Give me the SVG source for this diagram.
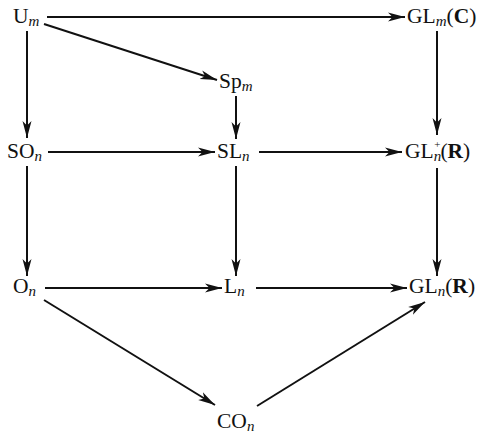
<svg xmlns="http://www.w3.org/2000/svg" width="481" height="433" viewBox="0 0 481 433">
<defs>
<style>
.lbl{font-family:"Liberation Serif","Times New Roman",serif;font-size:21.5px;fill:#111}
.sub{font-size:15px;font-style:italic}
.bold{font-weight:bold}
.ed{stroke:#111;stroke-width:2;fill:none}
</style>
<marker id="ah" viewBox="0 0 17 10" refX="17" refY="5" markerWidth="17" markerHeight="10" markerUnits="userSpaceOnUse" orient="auto">
<path d="M0,0.5 L17,5 L0,9.5 L4.5,5 Z" fill="#111"/>
</marker>
</defs>
<rect width="481" height="433" fill="#fff"/>
<g id="edges">
<line class="ed" x1="47" y1="17" x2="405" y2="17" marker-end="url(#ah)"/>
<line class="ed" x1="44" y1="24" x2="217" y2="80" marker-end="url(#ah)"/>
<line class="ed" x1="27" y1="31" x2="27" y2="138" marker-end="url(#ah)"/>
<line class="ed" x1="236" y1="96" x2="236" y2="139" marker-end="url(#ah)"/>
<line class="ed" x1="437" y1="31" x2="437" y2="135" marker-end="url(#ah)"/>
<line class="ed" x1="48" y1="152" x2="215" y2="152" marker-end="url(#ah)"/>
<line class="ed" x1="259" y1="152" x2="402" y2="152" marker-end="url(#ah)"/>
<line class="ed" x1="27" y1="166" x2="27" y2="276" marker-end="url(#ah)"/>
<line class="ed" x1="236" y1="166" x2="236" y2="276" marker-end="url(#ah)"/>
<line class="ed" x1="437" y1="168" x2="437" y2="276" marker-end="url(#ah)"/>
<line class="ed" x1="45" y1="288" x2="222" y2="288" marker-end="url(#ah)"/>
<line class="ed" x1="256" y1="288" x2="407" y2="288" marker-end="url(#ah)"/>
<line class="ed" x1="44" y1="300" x2="215" y2="405" marker-end="url(#ah)"/>
<line class="ed" x1="257" y1="406" x2="425" y2="302" marker-end="url(#ah)"/>
</g>
<g id="Um"><text class="lbl" x="13" y="23">U<tspan class="sub" dy="3">m</tspan></text></g>
<g id="GLmC"><text class="lbl" x="407" y="23">GL<tspan class="sub" dy="3">m</tspan><tspan dy="-3">(</tspan><tspan class="bold">C</tspan>)</text></g>
<g id="Spm"><text class="lbl" x="219" y="88">Sp<tspan class="sub" dy="3">m</tspan></text></g>
<g id="SOn"><text class="lbl" x="7" y="158">SO<tspan class="sub" dy="3">n</tspan></text></g>
<g id="SLn"><text class="lbl" x="217" y="158">SL<tspan class="sub" dy="3">n</tspan></text></g>
<g id="GLnpR"><text class="lbl" x="405" y="158">GL<tspan class="sub" dy="3">n</tspan><tspan style="font-size:11px" dx="-7" dy="-13">+</tspan><tspan dy="10">(</tspan><tspan class="bold">R</tspan>)</text></g>
<g id="On"><text class="lbl" x="13" y="293">O<tspan class="sub" dy="3">n</tspan></text></g>
<g id="Ln"><text class="lbl" x="224" y="293">L<tspan class="sub" dy="3">n</tspan></text></g>
<g id="GLnR"><text class="lbl" x="409" y="293">GL<tspan class="sub" dy="3">n</tspan><tspan dy="-3">(</tspan><tspan class="bold">R</tspan>)</text></g>
<g id="COn"><text class="lbl" x="217" y="428">CO<tspan class="sub" dy="3">n</tspan></text></g>
</svg>
